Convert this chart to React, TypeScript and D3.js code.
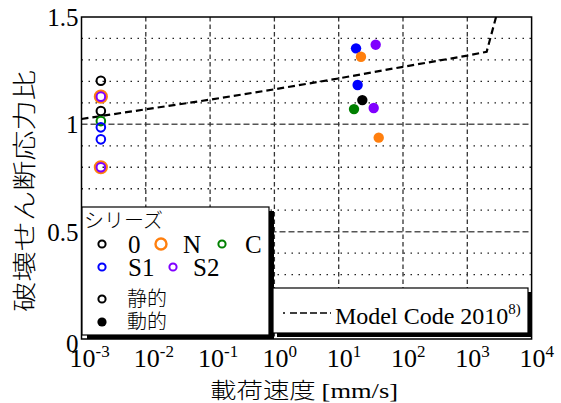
import * as d3 from 'd3';
import React, {useEffect} from 'react';

// series of the legend
const seriesNames = ["0", "N", "C", "S1", "S2"];
const seriesColors = ["#000000", "#ff7f0e", "#008000", "#0000ff", "#8000ff"];

// static tests (all at the same loading rate)
const staticRate = 0.002;
const staticSeries = ["0", "0", "N", "N", "C", "S1", "S1", "S2", "S2"];
const staticValues = [1.203, 1.062, 1.129, 0.80, 1.015, 0.986, 0.930, 1.129, 0.80];

// dynamic tests
const dynamicSeries = ["S1", "S1", "S2", "S2", "N", "N", "0", "C"];
const dynamicRates = [18.6, 19.7, 37.6, 35.0, 22.2, 41.9, 23.3, 17.3];
const dynamicValues = [1.354, 1.183, 1.371, 1.076, 1.315, 0.938, 1.113, 1.071];

// Model Code 2010 curve
const mcRates = [1e-3, 1e-2, 1e-1, 1, 10, 100, 1000, 2000, 2800];
const mcValues = [1.025, 1.07, 1.115, 1.163, 1.214, 1.268, 1.32, 1.338, 1.5];

const xTicks = [-3, -2, -1, 0, 1, 2, 3, 4];
const yTicks = [0, 0.5, 1, 1.5];
const yMinor = [0.1, 0.2, 0.3, 0.4, 0.6, 0.7, 0.8, 0.9, 1.1, 1.2, 1.3, 1.4];

const serif = "'Liberation Serif', 'Times New Roman', serif";
const jp = "'Noto Sans CJK JP', sans-serif";

export default function App() {
  const chartRef = React.useRef<HTMLDivElement>(null);

  useEffect(() => {
    drawChart();
  }, []);

  function drawChart() {
    const container = d3.select(chartRef.current);
    container.selectAll("*").remove();

    const W = 561, H = 403;
    const margin = {top: 17, right: 29.4, bottom: 64, left: 81.5};
    const width = W - margin.left - margin.right;
    const height = H - margin.top - margin.bottom;

    const svg = container.append("svg")
      .attr("width", W)
      .attr("height", H)
      .style("display", "block");

    const g = svg.append("g")
      .attr("transform", `translate(${margin.left},${margin.top})`);

    const x = d3.scaleLog().domain([1e-3, 1e4]).range([0, width]);
    const y = d3.scaleLinear().domain([0, 1.5]).range([height, 0]);
    const color = d3.scaleOrdinal<string, string>().domain(seriesNames).range(seriesColors);

    g.append("clipPath").attr("id", "clip")
      .append("rect").attr("width", width).attr("height", height);

    // grid
    g.append("g").selectAll("line").data(yMinor).enter().append("line")
      .attr("x1", 0).attr("x2", width)
      .attr("y1", d => y(d)).attr("y2", d => y(d))
      .attr("stroke", "#222").attr("stroke-width", 1.3)
      .attr("stroke-dasharray", "1.5,5.5");
    g.append("g").selectAll("line").data([0.5, 1]).enter().append("line")
      .attr("x1", 0).attr("x2", width)
      .attr("y1", d => y(d)).attr("y2", d => y(d))
      .attr("stroke", "#555").attr("stroke-width", 1.5)
      .attr("stroke-dasharray", "6,3");
    g.append("g").selectAll("line").data(xTicks.slice(1, -1)).enter().append("line")
      .attr("x1", d => x(Math.pow(10, d))).attr("x2", d => x(Math.pow(10, d)))
      .attr("y1", 0).attr("y2", height)
      .attr("stroke", "#333").attr("stroke-width", 1.3)
      .attr("stroke-dasharray", "4.5,3");

    // Model Code 2010
    const line = d3.line<number>()
      .x((d, i) => x(mcRates[i]))
      .y(d => y(d));
    g.append("path")
      .datum(mcValues)
      .attr("d", line)
      .attr("clip-path", "url(#clip)")
      .attr("fill", "none")
      .attr("stroke", "#000")
      .attr("stroke-width", 2.2)
      .attr("stroke-dasharray", "7,4");

    // static points (open)
    g.append("g").selectAll("circle").data(staticValues).enter().append("circle")
      .attr("cx", () => x(staticRate))
      .attr("cy", d => y(d))
      .attr("r", (d, i) => staticSeries[i] === "N" ? 5.8 : 4.3)
      .attr("fill", "none")
      .attr("stroke", (d, i) => color(staticSeries[i]))
      .attr("stroke-width", (d, i) => staticSeries[i] === "N" ? 2.6 : 2);

    // dynamic points (filled)
    g.append("g").selectAll("circle").data(dynamicValues).enter().append("circle")
      .attr("cx", (d, i) => x(dynamicRates[i]))
      .attr("cy", d => y(d))
      .attr("r", 5.2)
      .attr("fill", (d, i) => color(dynamicSeries[i]));

    // frame
    g.append("rect").attr("width", width).attr("height", height)
      .attr("fill", "none").attr("stroke", "#000").attr("stroke-width", 1.5);

    // y tick labels
    g.append("g").selectAll("text").data(yTicks).enter().append("text")
      .attr("x", -3).attr("y", d => y(d) + (d === 0 ? 13 : 9))
      .attr("text-anchor", "end")
      .style("font-family", serif).style("font-size", "25px")
      .text(d => d3.format("")(d));

    // x tick labels
    const xl = g.append("g").selectAll("text").data(xTicks).enter().append("text")
      .attr("x", d => x(Math.pow(10, d)) - 12)
      .attr("y", height + 28)
      .style("font-family", serif).style("font-size", "26px");
    xl.append("tspan").text("10");
    xl.append("tspan").attr("dy", -10).style("font-size", "17px").text(d => String(d));

    // axis titles
    const xt = svg.append("text")
      .attr("x", 304).attr("y", 398)
      .attr("text-anchor", "middle")
      .attr("textLength", 188).attr("lengthAdjust", "spacingAndGlyphs")
      .style("font-size", "22px");
    xt.append("tspan").style("font-family", jp).style("font-weight", 300).text("載荷速度 ");
    xt.append("tspan").style("font-family", serif).text("[mm/s]");

    svg.append("text")
      .attr("transform", "translate(33,191) rotate(-90)")
      .attr("text-anchor", "middle")
      .attr("textLength", 242).attr("lengthAdjust", "spacingAndGlyphs")
      .style("font-family", jp).style("font-weight", 300).style("font-size", "24px")
      .text("破壊せん断応力比");

    // legend 1
    const l1 = svg.append("g");
    l1.append("rect").attr("x", 87).attr("y", 211).attr("width", 187).attr("height", 128).attr("fill", "#000");
    l1.append("rect").attr("x", 82).attr("y", 207).attr("width", 187).attr("height", 128)
      .attr("fill", "#fff").attr("stroke", "#000").attr("stroke-width", 1.2);
    l1.append("text").attr("x", 84).attr("y", 228)
      .style("font-family", jp).style("font-weight", 300).style("font-size", "20px").text("シリーズ");
    const legendX = [102, 161, 222, 102, 173];
    const legendY = [244, 244, 244, 267, 267];
    const labelX = [128, 183, 245, 128, 193];
    seriesNames.forEach((s, i) => {
      l1.append("circle").attr("cx", legendX[i]).attr("cy", legendY[i])
        .attr("r", s === "N" ? 5.5 : 3.6)
        .attr("fill", "none").attr("stroke", color(s))
        .attr("stroke-width", s === "N" ? 2.4 : 2);
      l1.append("text").attr("x", labelX[i]).attr("y", legendY[i] + 9)
        .style("font-family", serif).style("font-size", "25px").text(s);
    });
    l1.append("circle").attr("cx", 102).attr("cy", 299).attr("r", 3.6)
      .attr("fill", "none").attr("stroke", "#000").attr("stroke-width", 2);
    l1.append("text").attr("x", 127).attr("y", 306)
      .style("font-family", jp).style("font-weight", 300).style("font-size", "20px").text("静的");
    l1.append("circle").attr("cx", 102).attr("cy", 322).attr("r", 4.6).attr("fill", "#000");
    l1.append("text").attr("x", 127).attr("y", 329)
      .style("font-family", jp).style("font-weight", 300).style("font-size", "20px").text("動的");

    // legend 2
    const l2 = svg.append("g");
    l2.append("rect").attr("x", 277).attr("y", 292).attr("width", 255).attr("height", 45).attr("fill", "#000");
    l2.append("rect").attr("x", 273).attr("y", 288).attr("width", 255).attr("height", 45)
      .attr("fill", "#fff").attr("stroke", "#000").attr("stroke-width", 1.2);
    l2.append("line").attr("x1", 283).attr("x2", 331).attr("y1", 313).attr("y2", 313)
      .attr("stroke", "#000").attr("stroke-width", 1.6).attr("stroke-dasharray", "2,5,7,3,7,3,7,3,7,3");
    const lt = l2.append("text").attr("x", 335).attr("y", 324)
      .style("font-family", serif).style("font-size", "24px");
    lt.append("tspan").text("Model Code 2010");
    lt.append("tspan").attr("dy", -10).style("font-size", "15px").text("8)");
  }

  return (
    <div ref={chartRef} style={{position: "absolute", left: 0, top: 0}}></div>
  );
}
